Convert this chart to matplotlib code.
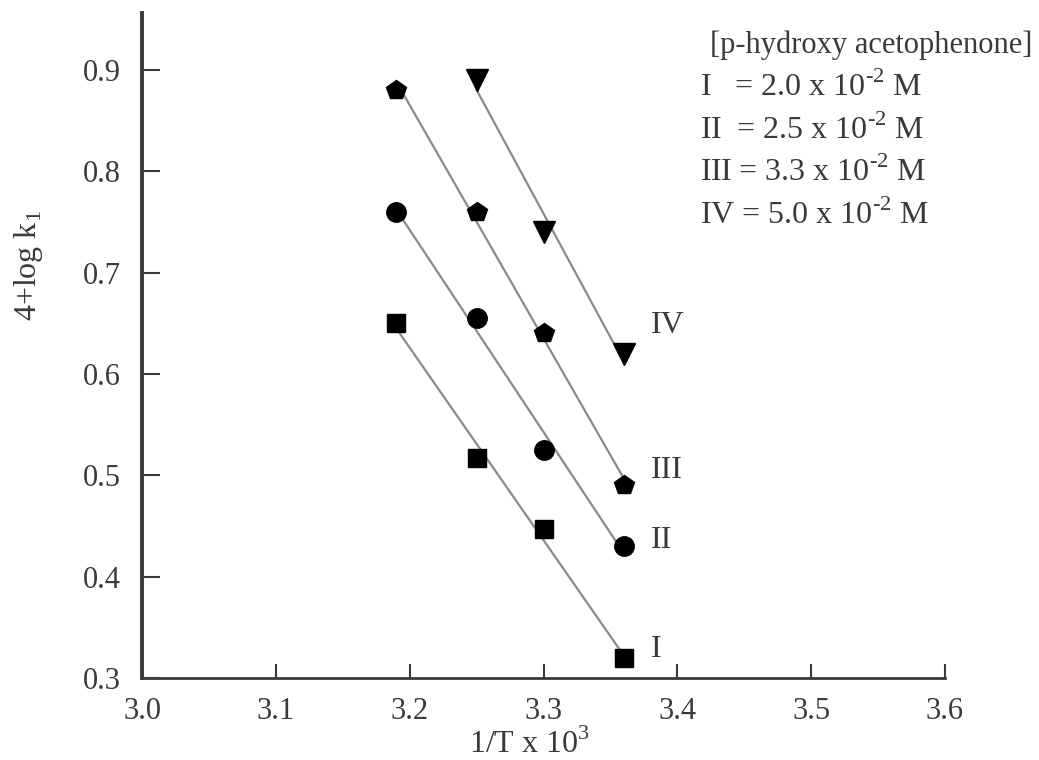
import matplotlib.pyplot as plt
import numpy as np

plt.rcParams['font.family'] = ['Liberation Serif', 'DejaVu Serif']
plt.rcParams['mathtext.fontset'] = 'custom'
plt.rcParams['mathtext.rm'] = 'Liberation Serif'

# data
inv_T = [3.19, 3.25, 3.30, 3.36]
inv_T_iv = [3.25, 3.30, 3.36]
logk_I = [0.650, 0.517, 0.447, 0.320]
logk_II = [0.760, 0.655, 0.525, 0.430]
logk_III = [0.880, 0.760, 0.640, 0.490]
logk_IV = [0.890, 0.740, 0.620]

series_names = ['I', 'II', 'III', 'IV']
series_x = [inv_T, inv_T, inv_T, inv_T_iv]
series_y = [logk_I, logk_II, logk_III, logk_IV]
markers = ['s', 'o', 'p', 'v']
msizes = [13, 14, 15, 16]
label_pos = [(3.38, 0.328), (3.38, 0.436), (3.38, 0.505), (3.38, 0.648)]

legend_lines = ['[p-hydroxy acetophenone]',
                r'I   = 2.0 x 10$^{\text{-}2}$ M',
                r'II  = 2.5 x 10$^{\text{-}2}$ M',
                r'III = 3.3 x 10$^{\text{-}2}$ M',
                r'IV = 5.0 x 10$^{\text{-}2}$ M']

text_col = '#3a3a3a'

fig = plt.figure(figsize=(10.39, 7.6), dpi=100)
ax = fig.add_axes([0.1367, 0.1079, 0.7728, 0.875])

for name, x, y, m, ms, pos in zip(series_names, series_x, series_y, markers, msizes, label_pos):
    x = np.array(x)
    y = np.array(y)
    k, b = np.polyfit(x, y, 1)
    xx = np.array([x.min(), x.max()])
    ax.plot(xx, k * xx + b, color='#8a8a8a', lw=1.6, zorder=1)
    ax.plot(x, y, linestyle='none', marker=m, color='black', ms=ms, zorder=2)
    ax.text(pos[0], pos[1], name, fontsize=23, color=text_col, va='center', ha='left')

ax.set_xlim(3.0, 3.6)
ax.set_ylim(0.3, 0.956)
ax.set_xticks(np.arange(3.0, 3.61, 0.1))
ax.set_yticks(np.arange(0.3, 0.91, 0.1))
ax.xaxis.set_major_formatter(plt.FormatStrFormatter('%.1f'))
ax.yaxis.set_major_formatter(plt.FormatStrFormatter('%.1f'))
ax.tick_params(direction='in', width=1.5, colors=text_col, labelsize=22)
ax.tick_params(axis='y', length=13, pad=15)
ax.tick_params(axis='x', length=10, pad=14)

for s in ['top', 'right']:
    ax.spines[s].set_visible(False)
ax.spines['left'].set_linewidth(2.8)
ax.spines['bottom'].set_linewidth(2.0)
ax.spines['left'].set_color(text_col)
ax.spines['bottom'].set_color(text_col)

ax.set_xlabel(r'1/T x 10$^3$', fontsize=23, color=text_col)
ax.xaxis.set_label_coords(0.483, -0.076)
ax.set_ylabel(r'4+log k$_1$', fontsize=23, color=text_col)
ax.yaxis.set_label_coords(-0.121, 0.62)

fig.text(0.994, 0.94, legend_lines[0], fontsize=22, color=text_col, ha='right', va='center')
for i, line in enumerate(legend_lines[1:]):
    fig.text(0.674, 0.885 - i * 0.056, line, fontsize=23, color=text_col, ha='left', va='center')

fig.savefig('out.png', dpi=100)
